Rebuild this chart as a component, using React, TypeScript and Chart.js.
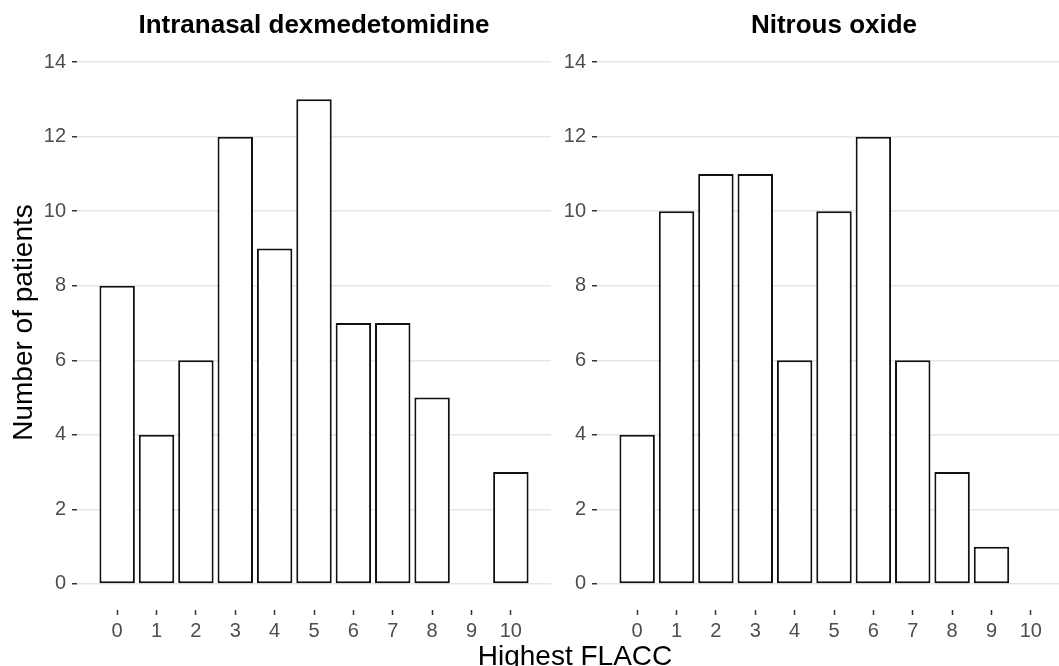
import React, { useEffect, useRef } from "react";
import { Chart, registerables } from "chart.js";

Chart.register(...registerables);

const categories = [0, 1, 2, 3, 4, 5, 6, 7, 8, 9, 10];
const dexValues = [8, 4, 6, 12, 9, 13, 7, 7, 5, 0, 3];
const nitrousValues = [4, 10, 11, 11, 6, 10, 12, 6, 3, 1, 0];
const yTicks = [0, 2, 4, 6, 8, 10, 12, 14];
const panelTitles = ["Intranasal dexmedetomidine", "Nitrous oxide"];
const xTitle = "Highest FLACC";
const yTitle = "Number of patients";

const FONT = "'Liberation Sans', Arial, Helvetica, sans-serif";
const W = 1071;
const H = 666;

function makeConfig(values: number[], title: string, left: boolean): any {
  const data = categories
    .map((c, i) => ({ x: c, y: values[i] }))
    .filter((d) => d.y > 0);
  const textPlugin = {
    id: "texts" + (left ? "L" : "R"),
    afterDraw(chart: any) {
      const ctx = chart.ctx;
      const ca = chart.chartArea;
      ctx.save();
      ctx.fillStyle = "#000000";
      ctx.font = `bold 26px ${FONT}`;
      ctx.textAlign = "center";
      ctx.textBaseline = "alphabetic";
      ctx.fillText(title, (ca.left + ca.right) / 2, 33);
      if (left) {
        ctx.font = `28px ${FONT}`;
        ctx.fillText(xTitle, 575, 665);
        ctx.translate(32, 322.5);
        ctx.rotate(-Math.PI / 2);
        ctx.fillText(yTitle, 0, 0);
      }
      ctx.restore();
    },
  };
  return {
    type: "bar",
    data: {
      datasets: [
        {
          data,
          backgroundColor: "#FFFFFF",
          borderColor: "#111111",
          borderWidth: 2,
          borderSkipped: false,
          barPercentage: 0.9,
          categoryPercentage: 1.0,
        },
      ],
    },
    options: {
      responsive: false,
      animation: false,
      events: [],
      layout: {
        padding: left
          ? { left: 0, right: W - 551, top: 36, bottom: 0 }
          : { left: 555, right: 0, top: 36, bottom: 0 },
      },
      plugins: {
        legend: { display: false },
        title: { display: false },
        tooltip: { enabled: false },
      },
      scales: {
        x: {
          type: "linear",
          min: -1.02,
          max: 11.02,
          offset: false,
          afterBuildTicks: (axis: any) => {
            axis.ticks = categories.map((v) => ({ value: v }));
          },
          afterFit: (axis: any) => {
            axis.height = 56;
          },
          grid: {
            display: true,
            drawOnChartArea: false,
            drawTicks: true,
            offset: false,
            tickLength: 5,
            tickColor: "#333333",
            tickWidth: 1.5,
          },
          border: { display: false },
          ticks: {
            color: "#4D4D4D",
            font: { family: FONT, size: 20 },
            padding: 4,
            maxRotation: 0,
            autoSkip: false,
            callback: (v: any) => String(v),
          },
        },
        y: {
          type: "linear",
          min: -0.7,
          max: 14.7,
          afterBuildTicks: (axis: any) => {
            axis.ticks = yTicks.map((v) => ({ value: v }));
          },
          afterFit: (axis: any) => {
            axis.width = left ? 77 : 42;
          },
          grid: {
            color: "#E6E6E6",
            lineWidth: 1.5,
            drawTicks: true,
            tickLength: 5,
            tickColor: "#333333",
            tickWidth: 1.5,
          },
          border: { display: false },
          ticks: {
            color: "#4D4D4D",
            font: { family: FONT, size: 20 },
            padding: 6,
            callback: (v: any) => String(v),
          },
        },
      },
    },
    plugins: [textPlugin],
  };
}

export default function App() {
  const leftRef = useRef<HTMLCanvasElement | null>(null);
  const rightRef = useRef<HTMLCanvasElement | null>(null);

  useEffect(() => {
    const c1 = new Chart(leftRef.current as any, makeConfig(dexValues, panelTitles[0], true));
    const c2 = new Chart(rightRef.current as any, makeConfig(nitrousValues, panelTitles[1], false));
    return () => {
      c1.destroy();
      c2.destroy();
    };
  }, []);

  const canvasStyle: React.CSSProperties = {
    position: "absolute",
    left: 0,
    top: 0,
    width: W,
    height: H,
  };

  return (
    <div
      style={{
        position: "absolute",
        left: 0,
        top: 0,
        width: 1059,
        height: 666,
        overflow: "hidden",
        background: "#FFFFFF",
      }}
    >
      <canvas ref={leftRef} width={W} height={H} style={canvasStyle} />
      <canvas ref={rightRef} width={W} height={H} style={canvasStyle} />
    </div>
  );
}
